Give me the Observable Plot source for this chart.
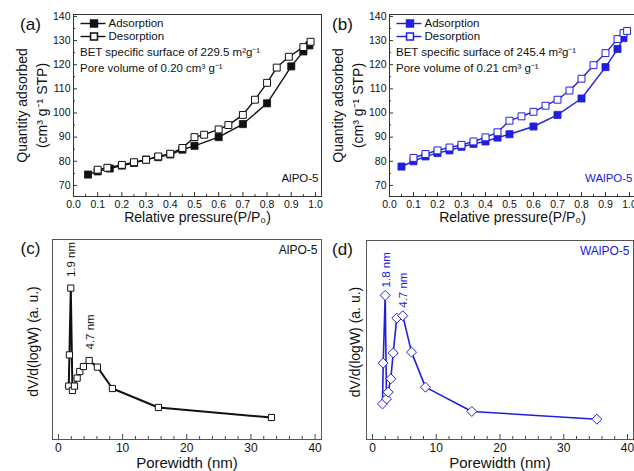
<!DOCTYPE html>
<html><head><meta charset="utf-8">
<script src="https://cdn.jsdelivr.net/npm/d3@7"></script>
<script src="https://cdn.jsdelivr.net/npm/@observablehq/plot@0.6"></script>
<style>
html,body{margin:0;padding:0;background:#fff;}
#fig{position:relative;width:634px;height:471px;overflow:hidden;background:#fff;}
#fig svg{position:absolute;overflow:visible;max-width:none;background:transparent;}
</style></head>
<body><div id="fig"></div>
<script>
// ---- Data: (a) AlPO-5 isotherm ----
const pressureAdsA = [0.06,0.1,0.15,0.2,0.25,0.3,0.35,0.4,0.45,0.5,0.6,0.7,0.8,0.9,0.95,0.975];
const quantityAdsA = [74.5,75.8,77.0,78.2,79.3,80.7,81.7,82.8,84.8,86.4,90.0,95.4,104.0,119.3,125.5,128.0];
const pressureDesA = [0.1,0.14,0.2,0.25,0.3,0.35,0.4,0.45,0.5,0.54,0.6,0.64,0.7,0.75,0.8,0.84,0.89,0.95,0.98];
const quantityDesA = [76.5,77.3,78.5,79.6,80.6,82.0,83.1,85.5,90.0,91.0,93.2,95.0,99.2,105.5,112.5,118.8,123.3,127.3,129.5];
// ---- Data: (b) WAlPO-5 isotherm ----
const pressureAdsB = [0.05,0.1,0.15,0.2,0.25,0.3,0.35,0.4,0.45,0.5,0.6,0.7,0.8,0.9,0.95,0.975];
const quantityAdsB = [77.8,80.0,82.0,83.4,84.5,86.0,87.2,88.2,89.8,91.2,94.4,99.2,106.0,119.0,126.5,131.0];
const pressureDesB = [0.1,0.15,0.2,0.25,0.3,0.35,0.4,0.45,0.5,0.55,0.6,0.65,0.7,0.75,0.8,0.85,0.9,0.95,0.975,0.99];
const quantityDesB = [81.4,83.0,84.5,85.7,86.8,88.2,89.9,92.0,96.8,98.6,100.5,103.0,105.5,109.3,114.2,119.8,124.8,130.6,133.1,134.0];
// ---- Data: (c) AlPO-5 pore size distribution ----
const poreWidthC = [1.6,1.71,1.92,2.18,2.49,2.91,3.32,3.89,4.78,6.07,8.41,15.58,33.2];
const dVdlogWC = [26.7,42.3,75.7,24.5,26.7,30.7,34.0,36.5,39.5,36.2,25.5,16.0,11.0];
const peakIndexC = [2, 8];
const peakLabelC = ["1.9 nm", "4.7 nm"];
// ---- Data: (d) WAlPO-5 pore size distribution ----
const poreWidthD = [1.57,1.68,1.99,2.2,2.46,2.87,3.25,3.81,4.75,6.12,8.31,15.58,35.2];
const dVdlogWD = [17.9,38.4,72.4,20.4,23.8,30.5,43.5,61.0,62.2,43.9,26.3,14.1,10.2];
const peakIndexD = [2, 8];
const peakLabelD = ["1.8 nm", "4.7 nm"];
// ---- Tick values ----
const pressureTicks = [0,0.1,0.2,0.3,0.4,0.5,0.6,0.7,0.8,0.9,1.0];
const pressureMinor = [0.05,0.15,0.25,0.35,0.45,0.55,0.65,0.75,0.85,0.95];
const quantityTicks = [70,80,90,100,110,120,130,140];
const quantityMinor = [75,85,95,105,115,125,135];
const widthTicks = [0,10,20,30,40];
const widthMinor = [2,4,6,8,12,14,16,18,22,24,26,28,32,34,36,38];

const BLACK = "#111";
const BLUE = "#2020dc";
const FONT = "'Liberation Sans', Arial, sans-serif";
const fig = document.getElementById("fig");

const legendLine = {draw(ctx){ ctx.moveTo(-12.5,0); ctx.lineTo(12.5,0); }};
const diamond = {draw(ctx, size){ const h = Math.sqrt(size/2); ctx.moveTo(0,-h); ctx.lineTo(h,0); ctx.lineTo(0,h); ctx.lineTo(-h,0); ctx.closePath(); }};

function place(svg, left, top){ svg.style.left = left+"px"; svg.style.top = top+"px"; fig.appendChild(svg); }
const T = (s, opts) => Plot.text([s], {text: d => d, lineAnchor: "middle", textAnchor: "middle", ...opts});

function isotherm(o){
  const ads = o.pa.map((p,i)=>({p, q:o.qa[i]}));
  const des = o.pd.map((p,i)=>({p, q:o.qd[i]}));
  const c = o.color;
  return Plot.plot({
    width: 330, height: 235,
    marginLeft: o.ml, marginTop: 14, marginRight: o.mr, marginBottom: 39,
    x: {domain: [0, 1.025]},
    y: {domain: [65.4, 140.8]},
    style: {fontFamily: FONT, color: "#111", background: "transparent", overflow: "visible"},
    marks: [
      Plot.axisX({ticks: pressureTicks, tickSize: -4, tickFormat: () => "", label: null, stroke: "#333"}),
      Plot.axisX({ticks: pressureMinor, tickSize: -2, tickFormat: () => "", label: null, stroke: "#333"}),
      Plot.axisX({ticks: pressureTicks, tickSize: 0, tickPadding: 4.5, tickFormat: d3.format(".1f"), fontSize: 10.5, label: null}),
      Plot.axisY({ticks: quantityTicks, tickSize: -4, tickFormat: () => "", label: null, stroke: "#333"}),
      Plot.axisY({ticks: quantityMinor, tickSize: -2, tickFormat: () => "", label: null, stroke: "#333"}),
      Plot.axisY({ticks: quantityTicks, tickSize: 0, tickPadding: 3, fontSize: 10.5, label: null}),
      Plot.frame({stroke: "#333"}),
      Plot.line(ads, {x: "p", y: "q", stroke: c, strokeWidth: 1.4}),
      Plot.dot(ads, {x: "p", y: "q", symbol: "square", r: 4, fill: c, stroke: c, strokeWidth: 0.8}),
      Plot.line(des, {x: "p", y: "q", stroke: c, strokeWidth: 1.4}),
      Plot.dot(des, {x: "p", y: "q", symbol: "square", r: 3.9, fill: "white", stroke: c, strokeWidth: 1}),
      // legend
      Plot.dot([0], {frameAnchor: "top-left", dx: 19.5, dy: 9, symbol: legendLine, stroke: c, strokeWidth: 1.4, fill: "none"}),
      Plot.dot([0], {frameAnchor: "top-left", dx: 20.5, dy: 9, symbol: "square", r: 3.9, fill: c, stroke: c}),
      Plot.dot([0], {frameAnchor: "top-left", dx: 19.5, dy: 22, symbol: legendLine, stroke: c, strokeWidth: 1.4, fill: "none"}),
      Plot.dot([0], {frameAnchor: "top-left", dx: 20.5, dy: 22, symbol: "square", r: 3.9, fill: "white", stroke: c}),
      T("Adsorption", {frameAnchor: "top-left", dx: 35, dy: 9, textAnchor: "start", fontSize: 11.5}),
      T("Desorption", {frameAnchor: "top-left", dx: 35, dy: 22, textAnchor: "start", fontSize: 11.5}),
      T(o.bet, {frameAnchor: "top-left", dx: 6.5, dy: 38, textAnchor: "start", fontSize: 11.5}),
      T(o.pore, {frameAnchor: "top-left", dx: 6.5, dy: 54, textAnchor: "start", fontSize: 11.5}),
      T(o.sample, {frameAnchor: "bottom-right", dx: -3, dy: -18, textAnchor: "end", fontSize: 11.5, fill: c}),
      // titles
      T("Quantity adsorbed", {frameAnchor: "left", dx: -51, dy: 0, rotate: -90, fontSize: 14}),
      T("(cm³ g⁻¹ STP)", {frameAnchor: "left", dx: -31, dy: 0, rotate: -90, fontSize: 14}),
      T("Relative pressure(P/P₀)", {frameAnchor: "bottom", dy: 21.5, fontSize: 14}),
      T(o.tag, {frameAnchor: "top-left", dx: o.tagDx, dy: 10, fontSize: 17})
    ]
  });
}

function psd(o){
  const pts = o.w.map((w,i)=>({w, v:o.v[i]}));
  const peaks = o.pi.map((k,j)=>({w:o.w[k], v:o.v[k], label:o.pl[j]}));
  const c = o.color;
  return Plot.plot({
    width: 330, height: 236,
    marginLeft: o.ml, marginTop: o.mt, marginRight: o.mr, marginBottom: 32,
    x: {domain: o.xd},
    y: {domain: [0, 100], axis: null},
    style: {fontFamily: FONT, color: "#111", background: "transparent", overflow: "visible"},
    marks: [
      Plot.axisX({ticks: widthTicks, tickSize: -5, tickFormat: () => "", label: null, stroke: "#444"}),
      Plot.axisX({ticks: widthMinor, tickSize: -3, tickFormat: () => "", label: null, stroke: "#444"}),
      Plot.axisX({ticks: widthTicks, tickSize: 0, tickPadding: 4, fontSize: 12, label: null}),
      Plot.frame({stroke: "#555"}),
      Plot.line(pts, {x: "w", y: "v", stroke: c, strokeWidth: o.sw}),
      Plot.dot(pts, {x: "w", y: "v", symbol: o.symbol, r: o.r, fill: "white", stroke: c, strokeWidth: 1}),
      Plot.text(peaks, {x: "w", y: "v", text: "label", rotate: -90, textAnchor: "start", lineAnchor: "middle", dy: o.pdy, dx: 1, fontSize: 11.5, fill: c}),
      T(o.sample, {frameAnchor: "top-right", dx: -4, dy: 11, textAnchor: "end", fontSize: 12, fill: c}),
      T("dV/d(logW) (a. u.)", {frameAnchor: "left", dx: o.ydx, dy: 2, rotate: -90, fontSize: 14}),
      T("Porewidth (nm)", {frameAnchor: "bottom", dy: 23.5, fontSize: 15}),
      T(o.tag, {frameAnchor: "top-left", dx: o.tagDx, dy: 9, fontSize: 17})
    ]
  });
}

place(isotherm({pa: pressureAdsA, qa: quantityAdsA, pd: pressureDesA, qd: quantityDesA, color: BLACK,
  ml: 73, mr: 9, sample: "AlPO-5", tag: "(a)", tagDx: -43,
  bet: "BET specific surface of 229.5 m²g⁻¹", pore: "Pore volume of 0.20 cm³ g⁻¹"}), 0, 0);
place(isotherm({pa: pressureAdsB, qa: quantityAdsB, pd: pressureDesB, qd: quantityDesB, color: BLUE,
  ml: 72, mr: 12, sample: "WAlPO-5", tag: "(b)", tagDx: -47,
  bet: "BET specific surface of 245.4 m²g⁻¹", pore: "Pore volume of 0.21 cm³ g⁻¹"}), 317, 0);
place(psd({w: poreWidthC, v: dVdlogWC, pi: peakIndexC, pl: peakLabelC, color: BLACK, ml: 52, mr: 9, mt: 4,
  xd: [-0.93, 41.0], sw: 2, symbol: "square", r: 3.5, pdy: -11, sample: "AlPO-5", ydx: -19, tag: "(c)", tagDx: -22}), 0, 235);
place(psd({w: poreWidthD, v: dVdlogWD, pi: peakIndexD, pl: peakLabelD, color: BLUE, ml: 49, mr: 14, mt: 5,
  xd: [-0.94, 40.94], sw: 1.6, symbol: diamond, r: 4, pdy: -8, sample: "WAlPO-5", ydx: -11, tag: "(d)", tagDx: -24}), 317, 235);
</script>
</body></html>
